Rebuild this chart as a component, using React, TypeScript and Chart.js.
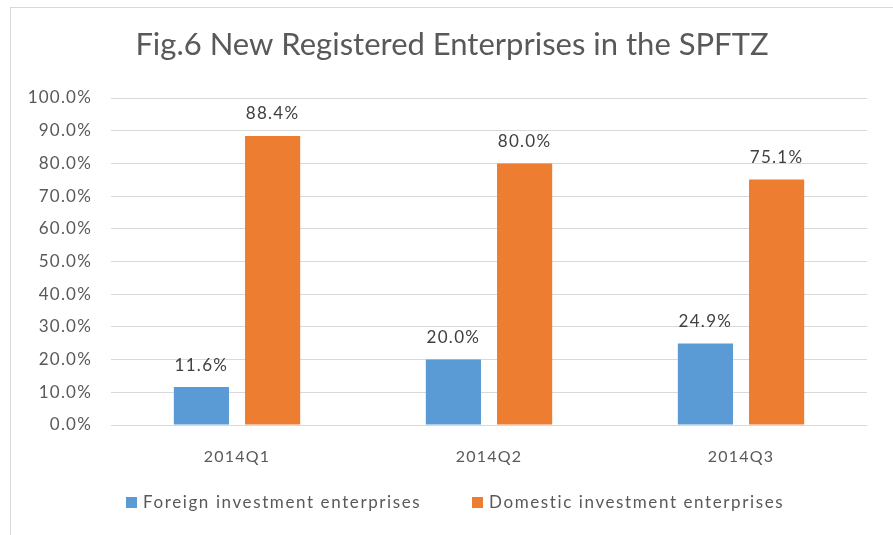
import React, { useEffect, useRef } from "react";
import { Chart, registerables } from "chart.js";

Chart.register(...registerables);

const categories = ["2014Q1", "2014Q2", "2014Q3"];
const foreignValues = [11.6, 20.0, 24.9];
const domesticValues = [88.4, 80.0, 75.1];
const seriesNames = ["Foreign investment enterprises", "Domestic investment enterprises"];
const seriesColors = ["#5B9BD5", "#ED7D31"];
const titleText = "Fig.6 New Registered Enterprises in the SPFTZ";

const FONT = "Lato, 'Open Sans', sans-serif";
const TEXT = "#595959";

const spacingPlugin = {
  id: "spacing",
  beforeDraw(chart: any) {
    chart.ctx.letterSpacing = "1.2px";
  },
};

const labelPlugin = {
  id: "barLabels",
  afterDatasetsDraw(chart: any) {
    const ctx = chart.ctx;
    ctx.save();
    ctx.letterSpacing = "1.3px";
    ctx.font = `17px ${FONT}`;
    ctx.fillStyle = "#404040";
    ctx.textAlign = "center";
    ctx.textBaseline = "middle";
    chart.data.datasets.forEach((ds: any, i: number) => {
      const meta = chart.getDatasetMeta(i);
      meta.data.forEach((bar: any, j: number) => {
        ctx.fillText(ds.data[j].toFixed(1) + "%", bar.x, bar.y - 22);
      });
    });
    ctx.restore();
  },
};

const decorPlugin = {
  id: "decor",
  afterDraw(chart: any) {
    const ctx = chart.ctx;
    ctx.save();
    ctx.letterSpacing = "0px";
    ctx.font = `31px ${FONT}`;
    ctx.fillStyle = TEXT;
    ctx.textAlign = "center";
    ctx.textBaseline = "middle";
    ctx.fillText(titleText, 452, 45);
    ctx.letterSpacing = "1.6px";
    ctx.font = `17px ${FONT}`;
    ctx.textAlign = "left";
    const starts = [126, 472];
    chart.data.datasets.forEach((ds: any, i: number) => {
      const x = starts[i];
      ctx.fillStyle = ds.backgroundColor;
      ctx.fillRect(x, 497, 11, 11);
      ctx.fillStyle = TEXT;
      ctx.fillText(ds.label, x + 17, 503);
    });
    ctx.restore();
  },
};

export default function App() {
  const ref = useRef<HTMLCanvasElement>(null);
  useEffect(() => {
    const chart = new Chart(ref.current!, {
      type: "bar",
      data: {
        labels: categories,
        datasets: [
          { label: seriesNames[0], data: foreignValues, backgroundColor: seriesColors[0] },
          { label: seriesNames[1], data: domesticValues, backgroundColor: seriesColors[1] },
        ],
      },
      options: {
        animation: false,
        responsive: false,
        maintainAspectRatio: false,
        layout: { padding: { top: 98, right: 26, bottom: 60, left: 0 } },
        plugins: {
          legend: { display: false },
          title: { display: false },
          tooltip: { enabled: false },
        },
        datasets: {
          bar: { categoryPercentage: 0.565, barPercentage: 0.775 },
        },
        scales: {
          x: {
            grid: { display: false, drawTicks: false },
            border: { display: false },
            ticks: { color: TEXT, font: { family: FONT, size: 16 }, padding: 22 },
            afterFit: (s: any) => { s.height = 50; },
          },
          y: {
            min: 0,
            max: 100,
            grid: { color: "#D9D9D9", drawTicks: false },
            border: { display: false },
            ticks: {
              stepSize: 10,
              color: TEXT,
              font: { family: FONT, size: 17 },
              padding: 19,
              callback: (v: any) => Number(v).toFixed(1) + "%",
            },
            afterFit: (s: any) => { s.width = 111; },
          },
        },
      },
      plugins: [spacingPlugin, labelPlugin, decorPlugin],
    });
    return () => chart.destroy();
  }, []);
  return (
    <div style={{ position: "fixed", left: 0, top: 0, width: 893, height: 535, background: "#fff", overflow: "hidden" }}>
      <div style={{ position: "absolute", left: 10, top: 7, width: 900, height: 560, border: "1px solid #D9D9D9" }} />
      <canvas ref={ref} width={893} height={535} style={{ position: "absolute", left: 0, top: 0 }} />
    </div>
  );
}
